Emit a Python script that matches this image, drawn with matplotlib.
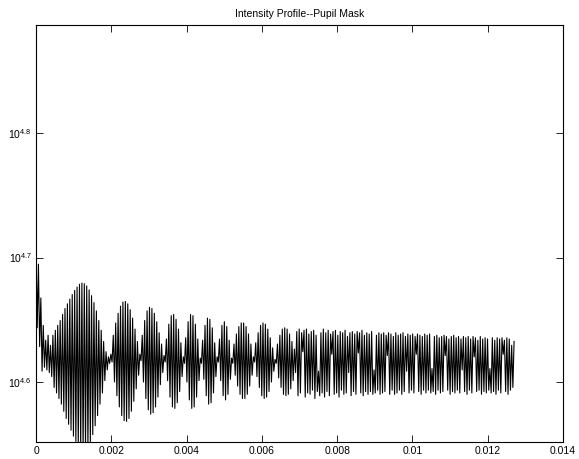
import numpy as np
import matplotlib
matplotlib.use("Agg")
import matplotlib.pyplot as plt

plt.rcParams["font.family"] = ["Liberation Sans", "DejaVu Sans"]
plt.rcParams["mathtext.default"] = "regular"

# Data (intensity samples, evenly spaced in x)
x_end = 0.0127

start_noise = [51300, 44000, 49500, 42500, 46500, 40600, 44200, 40900, 43000, 40700, 43400, 40500]

lobes = [
    42600, 40200, 43400, 39400, 43800, 39000, 44200, 38600,
    44600, 38200, 45100, 37700, 45600, 37200, 46000, 36800, 46400, 36400,
    46800, 36000, 47150, 35650, 47450, 35350, 47700, 35100, 47800, 35000,
    47750, 35050, 47550, 35250, 47200, 35600, 46700, 36100, 46100, 36700,
    45400, 37400, 44600, 38200, 43800, 39000, 42900, 39900, 42100, 40700,
    41700, 41200, 41900, 41300,
    43400, 39800, 44400, 38800, 45200, 38000, 45800, 37400, 46150, 37050,
    46200, 37000, 46000, 37200, 45500, 37700, 44800, 38400, 43900, 39300, 42900, 40300,
    41900, 41400,
    43400, 39800, 44600, 38600, 45400, 37800, 45700, 37500, 45600, 37600,
    45200, 38000, 44500, 38700, 43600, 39600, 42700, 40500,
    41800, 41300,
    43100, 39900, 44300, 38700, 45000, 38000, 45100, 37900, 44700, 38300, 43900, 39100, 42800, 40200,
    41700, 41200,
    43200, 39800, 44500, 38500, 45100, 37900, 45000, 38000, 44300, 38700, 43100, 39900,
    41600, 41200,
    43000, 40000, 44200, 38800, 44800, 38200, 44700, 38300, 44000, 39000, 42800, 40200,
    41700, 41300,
    43100, 39900, 44200, 38800, 44500, 38500, 44100, 38900, 43000, 40000,
    41600, 41200,
    42700, 40300, 43500, 39500, 44100, 38900, 44400, 38600, 44400, 38600, 44100, 38900, 43500, 39500, 42700, 40300,
    41700, 41300,
    42800, 40200, 43600, 39400, 44200, 38800, 44400, 38600, 44300, 38700, 43900, 39100, 43200, 39800, 42400, 40600,
    41500, 41200,
    42700, 40100, 43400, 39400, 43900, 38900, 44000, 38800, 43900, 38900, 43500, 39300, 42900, 39900, 42300, 40500,
]

tail = [
    43700, 38800, 43900, 39000, 43600, 42100, 43800, 38700, 43900, 39000, 43500, 38900,
    43700, 39200, 43800, 38600, 43400, 39100, 40600, 38800, 43600, 39000, 43900, 38700,
    43600, 39100, 43800, 38800, 43500, 41900, 43700, 38900, 43800, 39000, 43400, 38700,
    43700, 39200, 43600, 38900, 43800, 39000, 43300, 40500, 43600, 38800, 43700, 39100,
    43500, 38900, 43700, 42000, 43600, 39000, 43800, 38800, 43400, 39100, 43600, 38900,
    43500, 39100, 43700, 38900, 40700, 39000, 43400, 39200, 43600, 38900, 43500, 39000,
    43600, 39100, 43400, 41800, 43600, 38900, 43500, 39200, 43300, 38900, 43600, 39000,
    43400, 39200, 43500, 38900, 43600, 39100, 43300, 40600, 43500, 39000, 43400, 39200,
    43500, 39000, 43300, 41900, 43500, 39100, 43400, 38900, 43300, 39200, 43500, 39000,
    43400, 39200, 43500, 39000, 40800, 39100, 43300, 38900, 43400, 39200, 43200, 39000,
    43300, 39100, 43400, 41800, 43300, 39200, 43100, 38900, 43300, 39100, 43400, 39000,
    43200, 39200, 43300, 39000, 43100, 40700, 43300, 39100, 43200, 38900, 43300, 39200,
    43100, 39000, 43300, 41700, 43200, 39100, 43000, 39200, 43300, 38900, 43100, 39100,
    43200, 39000, 43100, 39200, 40800, 39000, 43200, 39100, 43000, 38900, 43200, 39200,
    43100, 39000, 43200, 41900, 43000, 39100, 43200, 38900, 43100, 39200, 42600, 39400, 42900,
]

intensity = np.array(start_noise + lobes + tail, dtype=float)
x = np.linspace(0, x_end, len(intensity))

x_ticks = [0, 0.002, 0.004, 0.006, 0.008, 0.010, 0.012, 0.014]
x_labels = ["0", "0.002", "0.004", "0.006", "0.008", "0.01", "0.012", "0.014"]
y_exps = [4.6, 4.7, 4.8]

# Plot
fig = plt.figure(figsize=(5.79, 4.59), dpi=100)
ax = fig.add_axes([0.0622, 0.037, 0.9102, 0.9085])
ax.plot(x, intensity, color="black", linewidth=0.8)

ax.set_yscale("log")
ax.set_xlim(0, 0.014)
ax.set_ylim(10 ** 4.5516, 10 ** 4.887)
ax.set_xticks(x_ticks)
ax.set_xticklabels(x_labels)
ax.set_yticks([10 ** e for e in y_exps])
ax.set_yticklabels(["$10^{%.1f}$" % e for e in y_exps])
ax.minorticks_off()

ax.tick_params(direction="in", top=True, right=True, length=5, width=0.6,
               labelsize=7.5, pad=3)
for s in ax.spines.values():
    s.set_linewidth(0.8)

ax.set_title("Intensity Profile--Pupil Mask", fontsize=7.5, pad=6)

fig.savefig("out.png", dpi=100)
